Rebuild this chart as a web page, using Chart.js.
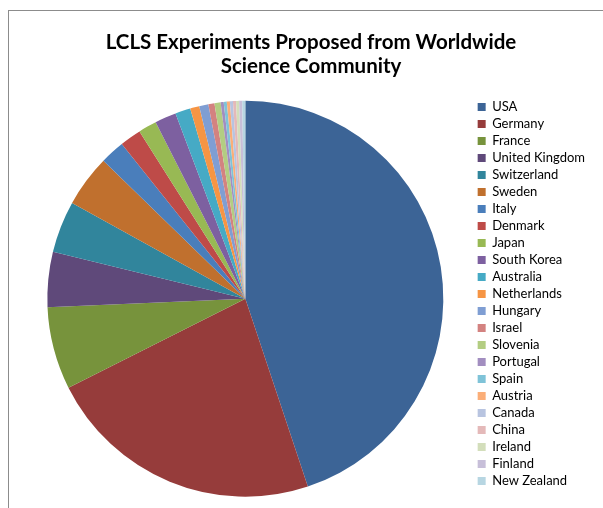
<!DOCTYPE html>
<html>
<head>
<meta charset="utf-8">
<script src="https://cdn.jsdelivr.net/npm/chart.js@4"></script>
<style>
  html, body { margin: 0; padding: 0; background: #fff; }
  #wrap { position: relative; width: 603px; height: 508px; }
  #frame {
    position: absolute; left: 8px; top: 10px; right: 0; bottom: 0;
    border-top: 1px solid #8c8c8c; border-left: 1px solid #8c8c8c;
    pointer-events: none;
  }
</style>
</head>
<body>
<div id="wrap">
  <canvas id="chart" width="603" height="508"></canvas>
  <div id="frame"></div>
</div>
<script>
const countries = ['USA', 'Germany', 'France', 'United Kingdom', 'Switzerland', 'Sweden',
    'Italy', 'Denmark', 'Japan', 'South Korea', 'Australia', 'Netherlands', 'Hungary',
    'Israel', 'Slovenia', 'Portugal', 'Spain', 'Austria', 'Canada', 'China', 'Ireland',
    'Finland', 'New Zealand'];
const proposals = [180, 91, 27, 18, 17, 17, 8, 7, 6, 7, 5, 3, 3, 2, 2, 1, 1, 1, 1, 1, 1, 1, 1];
const sliceColors = ['#3C6496', '#963C3B', '#77933C', '#5F497A', '#31859C', '#C0702E',
    '#4A7EBB', '#BE4B48', '#98B954', '#7D60A0', '#46AAC5', '#F69544', '#7F9ED3',
    '#D38280', '#B3CD82', '#A28EC0', '#7FC3D8', '#FBAE78', '#B8C4E0', '#E4B9B9',
    '#D3DEBB', '#C7BFD9', '#B7D6E2'];

// nudge the title a little to the right, like the original
const shiftTitle = {
    id: 'shiftTitle',
    afterLayout(chart) {
        if (chart.titleBlock) {
            chart.titleBlock.left += 10;
        }
    },
};

const ctx = document.getElementById('chart').getContext('2d');
new Chart(ctx, {
    type: 'pie',
    data: {
        labels: countries,
        datasets: [{
            data: proposals,
            backgroundColor: sliceColors,
            borderWidth: 0,
        }],
    },
    options: {
        responsive: false,
        animation: false,
        radius: 198,
        layout: {
            padding: { left: 17, right: 8, top: 0, bottom: 0 },
        },
        plugins: {
            title: {
                display: true,
                text: ['LCLS Experiments Proposed from Worldwide', 'Science Community'],
                color: '#000',
                font: { family: 'Lato', size: 20.5, weight: 'bold', lineHeight: 1.17 },
                padding: { top: 30, bottom: 11.5 },
            },
            legend: {
                position: 'right',
                align: 'start',
                fullSize: false,
                title: {
                    display: true,
                    text: '',
                    font: { size: 1, lineHeight: 1 },
                    padding: { top: 6, bottom: 0 },
                },
                labels: {
                    color: '#000',
                    font: { family: 'Lato', size: 13 },
                    boxWidth: 8,
                    boxHeight: 8,
                    padding: 4,
                },
            },
            tooltip: { enabled: false },
        },
    },
    plugins: [shiftTitle],
});
</script>
</body>
</html>
